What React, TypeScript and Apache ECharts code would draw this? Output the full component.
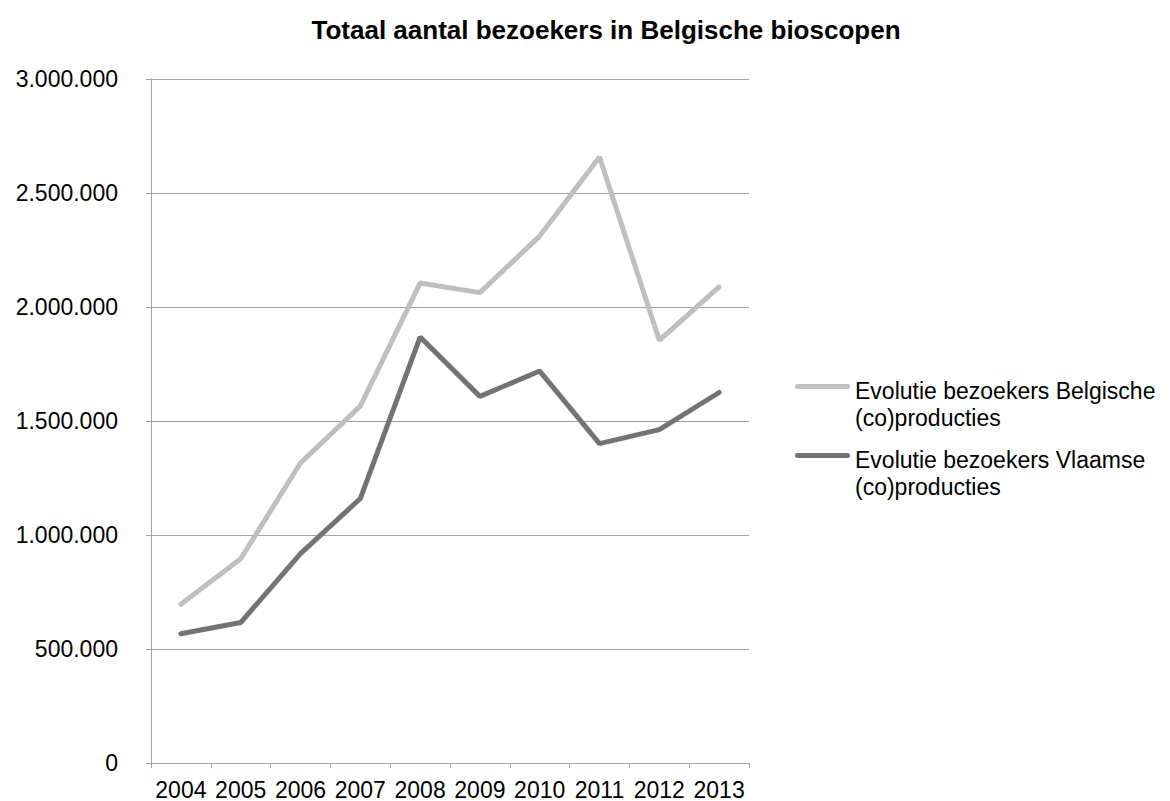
import React, { useEffect, useRef } from "react";
import * as echarts from "echarts";

const years = ["2004", "2005", "2006", "2007", "2008", "2009", "2010", "2011", "2012", "2013"];
const belgischeValues = [696000, 896000, 1316000, 1565000, 2105000, 2063000, 2311000, 2658000, 1854000, 2088000];
const vlaamseValues = [567000, 616000, 918000, 1160000, 1868000, 1608000, 1719000, 1401000, 1462000, 1625000];
const seriesNames = [
  "Evolutie bezoekers Belgische\n(co)producties",
  "Evolutie bezoekers Vlaamse\n(co)producties",
];
const seriesColors = ["#bfbfbf", "#737373"];
const titleText = "Totaal aantal bezoekers in Belgische bioscopen";

const FONT = "'Liberation Sans', Arial, Helvetica, sans-serif";

function fmt(v: number): string {
  return String(Math.round(v)).replace(/\B(?=(\d{3})+(?!\d))/g, ".");
}

export default function App() {
  const ref = useRef<HTMLDivElement>(null);
  useEffect(() => {
    if (!ref.current) return;
    const chart = echarts.init(ref.current, null, { renderer: "svg" });
    const axisColor = "#a3a3a3";
    const legendTops = [378, 447];
    const legendGraphics: any[] = [];
    seriesNames.forEach((name, i) => {
      legendGraphics.push({
        type: "rect",
        shape: { x: 795, y: legendTops[i] + 6, width: 55, height: 5, r: 2.5 },
        style: { fill: seriesColors[i] },
      });
      legendGraphics.push({
        type: "text",
        x: 855,
        y: legendTops[i],
        style: {
          text: name,
          fontFamily: FONT,
          fontSize: 23,
          lineHeight: 26.5,
          fill: "#000",
          align: "left",
          verticalAlign: "top",
        },
      });
    });
    chart.setOption({
      animation: false,
      backgroundColor: "#fff",
      textStyle: { fontFamily: FONT },
      title: {
        text: titleText,
        left: 601,
        top: 12,
        textAlign: "center",
        textStyle: { fontFamily: FONT, fontSize: 26, fontWeight: "bold", color: "#000" },
      },
      legend: { show: false, data: seriesNames },
      graphic: legendGraphics,
      grid: { left: 151, right: 421, top: 79, bottom: 38, containLabel: false },
      xAxis: {
        type: "category",
        data: years,
        boundaryGap: true,
        axisLine: { show: true, lineStyle: { color: axisColor, width: 1 } },
        axisTick: { show: true, length: 5, lineStyle: { color: axisColor } },
        axisLabel: { color: "#000", fontSize: 23, fontFamily: FONT, margin: 15, interval: 0 },
        splitLine: { show: false },
      },
      yAxis: {
        type: "value",
        min: 0,
        max: 3000000,
        interval: 500000,
        axisLine: { show: true, lineStyle: { color: axisColor, width: 1 } },
        axisTick: { show: true, length: 5, lineStyle: { color: axisColor } },
        axisLabel: {
          color: "#000",
          fontSize: 23,
          fontFamily: FONT,
          margin: 33,
          formatter: (v: number) => fmt(v),
        },
        splitLine: { show: true, lineStyle: { color: axisColor, width: 1 } },
      },
      series: [
        {
          name: seriesNames[0],
          type: "line",
          data: belgischeValues,
          symbol: "none",
          color: seriesColors[0],
          lineStyle: { color: seriesColors[0], width: 5, cap: "round" },
        },
        {
          name: seriesNames[1],
          type: "line",
          data: vlaamseValues,
          symbol: "none",
          color: seriesColors[1],
          lineStyle: { color: seriesColors[1], width: 5, cap: "round" },
        },
      ],
    });
    return () => chart.dispose();
  }, []);
  return (
    <div
      ref={ref}
      style={{ position: "fixed", left: 0, top: 0, width: 1170, height: 801, background: "#fff" }}
    />
  );
}
